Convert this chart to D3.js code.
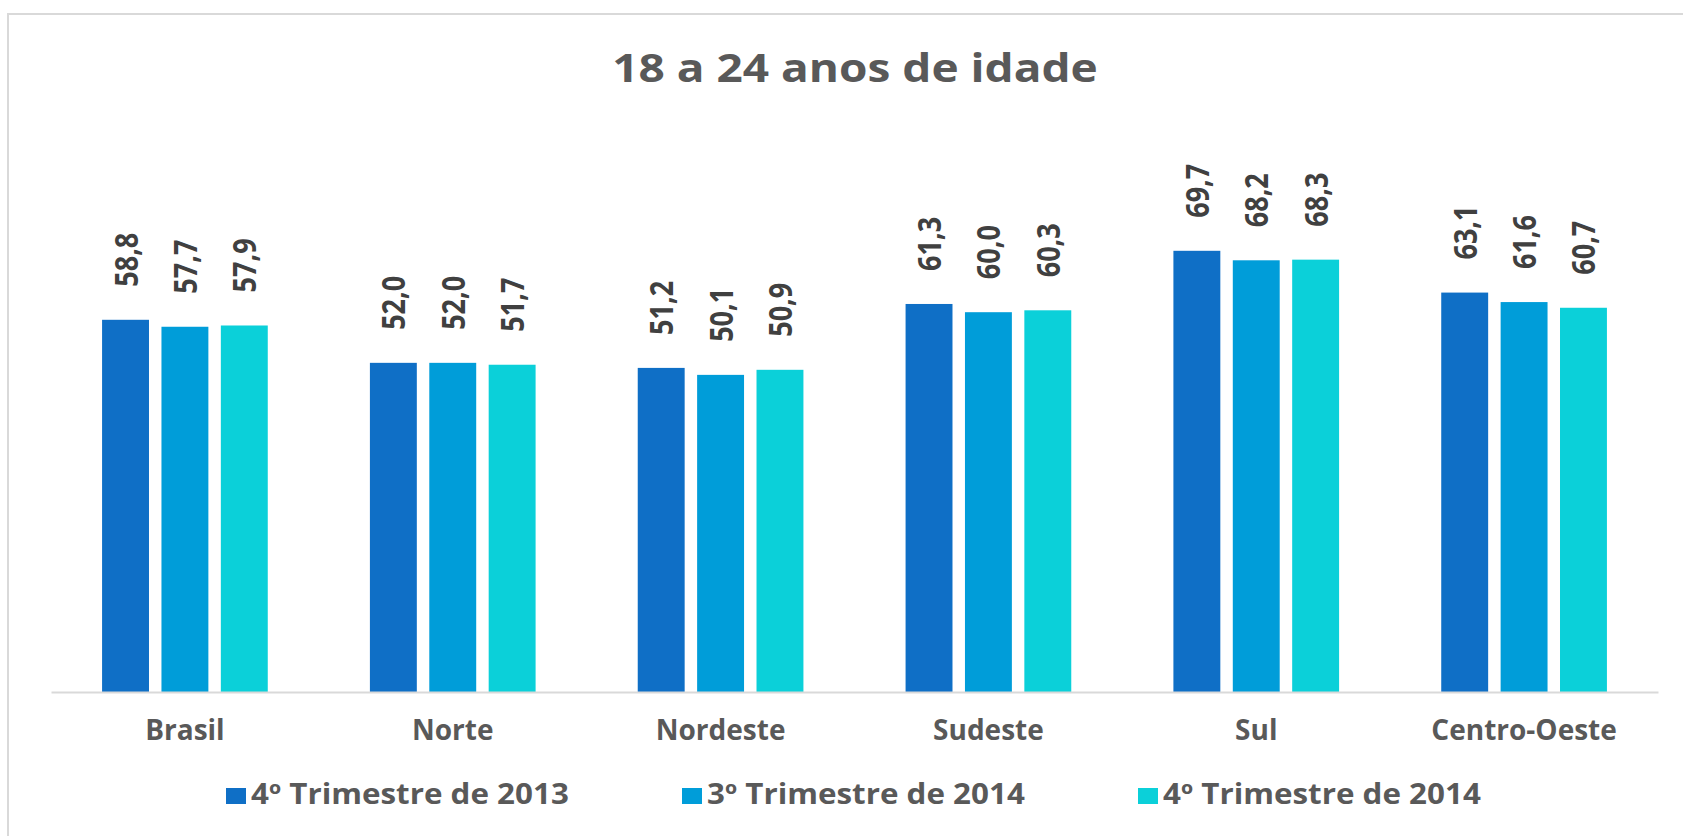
<!DOCTYPE html>
<html>
<head>
<meta charset="utf-8">
<script src="https://cdn.jsdelivr.net/npm/d3@7"></script>
<style>
  html, body { margin: 0; padding: 0; background: #fff; }
  svg { display: block; font-family: "Open Sans", "DejaVu Sans", sans-serif; }
</style>
</head>
<body>
<div id="chart"></div>
<script>
const title = "18 a 24 anos de idade";
const regions = ["Brasil", "Norte", "Nordeste", "Sudeste", "Sul", "Centro-Oeste"];
const seriesNames = ["4º Trimestre de 2013", "3º Trimestre de 2014", "4º Trimestre de 2014"];
const q4_2013 = [58.8, 52.0, 51.2, 61.3, 69.7, 63.1];
const q3_2014 = [57.7, 52.0, 50.1, 60.0, 68.2, 61.6];
const q4_2014 = [57.9, 51.7, 50.9, 60.3, 68.3, 60.7];
const seriesColors = ["#0F6FC6", "#009DD9", "#0BD0D9"];

const seriesValues = [q4_2013, q3_2014, q4_2014];
const rows = regions.map((r, i) => ({
  region: r,
  values: seriesNames.map((s, j) => ({ series: s, value: seriesValues[j][i], color: seriesColors[j] }))
}));

const W = 1683, H = 836;
const plot = { left: 51, right: 1658, base: 692 };

const ptBR = d3.formatLocale({ decimal: ",", thousands: ".", grouping: [3], currency: ["R$", ""] });
const fmt = ptBR.format(".1f");

const svg = d3.select("#chart").append("svg")
  .attr("width", W)
  .attr("height", H);

// outer frame (runs past the right and bottom edges)
svg.append("rect")
  .attr("x", 8).attr("y", 14)
  .attr("width", W + 20).attr("height", H + 20)
  .attr("fill", "none")
  .attr("stroke", "#d9d9d9")
  .attr("stroke-width", 2);

svg.append("text")
  .attr("transform", "translate(855,82) scale(1.15,1)")
  .attr("text-anchor", "middle")
  .attr("font-size", 40)
  .attr("font-weight", 700)
  .attr("fill", "#595959")
  .text(title);

const x0 = d3.scaleBand().domain(regions).range([plot.left, plot.right]).padding(0);
const x1 = d3.scaleBand().domain(seriesNames).range([0, x0.bandwidth()])
  .paddingInner(0.21).paddingOuter(0.86);
const y = d3.scaleLinear().domain([0, 80]).range([plot.base, plot.base - 80 * 6.33]);

const groups = svg.selectAll(".group")
  .data(rows)
  .enter().append("g")
  .attr("class", "group")
  .attr("transform", d => `translate(${x0(d.region)},0)`);

groups.selectAll("rect")
  .data(d => d.values)
  .enter().append("rect")
  .attr("x", d => x1(d.series))
  .attr("y", d => y(d.value))
  .attr("width", x1.bandwidth())
  .attr("height", d => y(0) - y(d.value))
  .attr("fill", d => d.color);

groups.selectAll(".label")
  .data(d => d.values)
  .enter().append("text")
  .attr("class", "label")
  .attr("transform", d => `translate(${x1(d.series) + x1.bandwidth() / 2 + 12},${y(d.value) - 33}) rotate(-90) scale(0.82,1)`)
  .attr("font-size", 33)
  .attr("font-weight", 700)
  .attr("fill", "#404040")
  .text(d => fmt(d.value));

// baseline
const xAxis = svg.append("g")
  .attr("transform", `translate(0,${plot.base})`)
  .call(d3.axisBottom(x0).tickSize(0).tickPadding(48));
xAxis.select(".domain").attr("stroke", "#d9d9d9").attr("stroke-width", 2);
xAxis.selectAll("text")
  .attr("font-size", 28)
  .attr("font-weight", 700)
  .attr("fill", "#595959")
  .attr("font-family", "'Open Sans', sans-serif")
  .attr("dy", 0);

// legend
const legend = svg.append("g");
const items = legend.selectAll("g")
  .data(seriesNames)
  .enter().append("g")
  .attr("transform", (d, i) => `translate(${226 + i * 456},0)`);
items.append("rect")
  .attr("x", 0).attr("y", 788)
  .attr("width", 20).attr("height", 16)
  .attr("fill", (d, i) => seriesColors[i]);
items.append("text")
  .attr("transform", "translate(25,804) scale(1.12,1)")
  .attr("font-size", 28)
  .attr("font-weight", 700)
  .attr("fill", "#595959")
  .text(d => d);
</script>
</body>
</html>
